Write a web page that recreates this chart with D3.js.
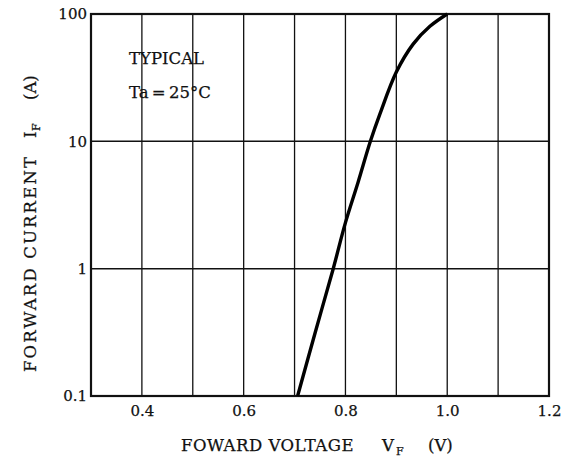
<!DOCTYPE html>
<html><head><meta charset="utf-8">
<script src="https://cdn.jsdelivr.net/npm/d3@7"></script>
<style>
body{margin:0;background:#fff;}
svg text{font-family:"DejaVu Serif","Liberation Serif",serif;fill:#111;stroke:#111;stroke-width:0.25;}
</style></head>
<body><svg id="c" width="567" height="462"></svg>
<script>
const voltage = [0.706, 0.741, 0.776, 0.800, 0.825, 0.849, 0.868, 0.900, 0.933, 0.966, 1.000];
const current = [0.1, 0.32, 1.0, 2.3, 4.8, 10, 16.5, 35, 58, 80, 100];
const xTicks = [0.4, 0.6, 0.8, 1.0, 1.2];
const xGrid = [0.4, 0.5, 0.6, 0.7, 0.8, 0.9, 1.0, 1.1];
const yTicks = [0.1, 1, 10, 100];
const yTickLabels = ["0.1", "1", "10", "100"];

const L = 91, R = 549, T = 14, B = 396;
const svg = d3.select("#c");
const x = d3.scaleLinear().domain([0.3, 1.2]).range([L, R]);
const y = d3.scaleLog().domain([0.1, 100]).range([B, T]);

// grid
svg.append("g").selectAll("line").data(xGrid).join("line")
  .attr("x1", d => x(d)).attr("x2", d => x(d)).attr("y1", T).attr("y2", B)
  .attr("stroke", "#111").attr("stroke-width", 1.3);
svg.append("g").selectAll("line").data([1, 10]).join("line")
  .attr("x1", L).attr("x2", R).attr("y1", d => y(d)).attr("y2", d => y(d))
  .attr("stroke", "#111").attr("stroke-width", 1.5);

// frame
svg.append("rect").attr("x", L).attr("y", T).attr("width", R - L).attr("height", B - T)
  .attr("fill", "none").attr("stroke", "#111").attr("stroke-width", 2.2);

// axes labels
const xAxis = d3.axisBottom(x).tickValues(xTicks).tickFormat(d3.format(".1f")).tickSize(0).tickPadding(9);
const gx = svg.append("g").attr("transform", `translate(0,${B})`).call(xAxis);
gx.select(".domain").remove();
gx.selectAll("text").attr("font-size", 15).attr("font-family", "DejaVu Serif").attr("fill", "#111");

const yAxis = d3.axisLeft(y).tickValues(yTicks).tickFormat((d, i) => yTickLabels[i]).tickSize(0).tickPadding(4);
const gy = svg.append("g").attr("transform", `translate(${L},0)`).call(yAxis);
gy.select(".domain").remove();
gy.selectAll("text").attr("font-size", 15).attr("font-family", "DejaVu Serif").attr("fill", "#111");

// curve
const pts = voltage.map((v, i) => [v, current[i]]);
svg.append("path").datum(pts)
  .attr("d", d3.line().x(d => x(d[0])).y(d => y(d[1])).curve(d3.curveCatmullRom.alpha(0.5)))
  .attr("fill", "none").attr("stroke", "#000").attr("stroke-width", 3.4);

// annotations
svg.append("text").attr("x", 129).attr("y", 64).attr("font-size", 16.5).text("TYPICAL");
svg.append("text").attr("x", 129).attr("y", 98).attr("font-size", 16.5).text("Ta\u2009=\u200925\u00B0C");

// x title
const xtg = svg.append("g").attr("font-size", 16.5);
xtg.append("text").attr("x", 181).attr("y", 451).attr("letter-spacing", 0.5).text("FOWARD VOLTAGE");
xtg.append("text").attr("x", 382).attr("y", 451).text("V");
xtg.append("text").attr("x", 396).attr("y", 455).attr("font-size", 11).text("F");
xtg.append("text").attr("x", 428).attr("y", 451).text("(V)");

// y title
const ytg = svg.append("g").attr("transform", "rotate(-90)").attr("font-size", 16.5);
ytg.append("text").attr("x", -372).attr("y", 36).attr("textLength", 215).attr("lengthAdjust", "spacing").text("FORWARD CURRENT");
ytg.append("text").attr("x", -138).attr("y", 36).text("I");
ytg.append("text").attr("x", -131).attr("y", 40).attr("font-size", 11).text("F");
ytg.append("text").attr("x", -100).attr("y", 36).text("(A)");
</script></body></html>
